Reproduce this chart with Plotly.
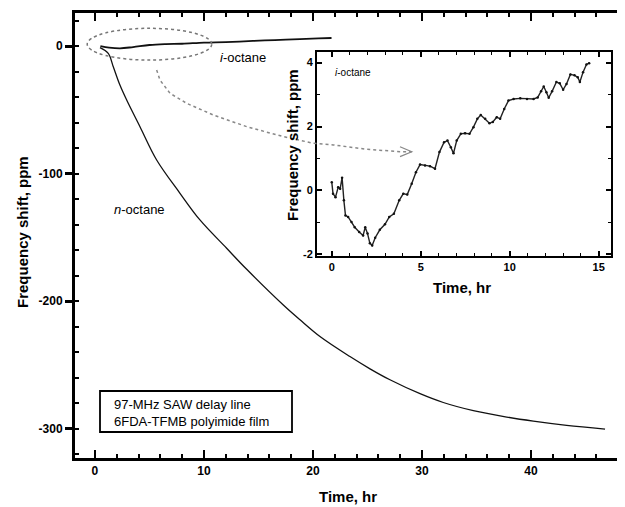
import plotly.graph_objects as go

# ---- data ----
n_oct_t = [0.46, 1.22, 1.68, 2.29, 2.91, 4.13, 5.66, 7.80, 9.63, 12.08, 13.92, 17.28,
           18.81, 20.64, 23.39, 25.23, 27.06, 29.82, 31.95, 34.71, 37.77, 40.21,
           43.27, 46.79]
n_oct_v = [-1.2, -5.7, -16.2, -30.6, -42.3, -63.2, -89.3, -115.4, -136.3, -158.5, -175.0,
           -203.0, -214.6, -227.7, -243.4, -253.0, -261.6, -272.5, -279.4, -285.8,
           -290.8, -294.0, -297.3, -300.2]

i_oct_main_t = [0.5, 1.3, 2.3, 3.5, 5.0, 6.5, 8.0, 10.0, 12.0, 14.5, 16.5, 18.8, 20.5, 21.7]
i_oct_main_v = [0.0, -1.2, -1.8, -0.8, 0.8, 1.5, 1.8, 2.7, 3.1, 4.0, 4.7, 5.5, 6.0, 6.3]

i_oct_t = [0.0, 0.07, 0.21, 0.36, 0.47, 0.58, 0.68, 0.77, 0.92, 1.11, 1.29, 1.54, 1.76,
           1.88, 2.01, 2.14, 2.27, 2.44, 2.70, 2.99, 3.23, 3.49, 3.79, 4.02, 4.24, 4.49,
           4.73, 4.96, 5.24, 5.52, 5.80, 6.05, 6.31, 6.50, 6.69, 6.84, 7.02, 7.25, 7.49,
           7.74, 7.96, 8.18, 8.37, 8.62, 8.86, 9.05, 9.27, 9.46, 9.69, 9.93, 10.22,
           10.59, 10.97, 11.34, 11.57, 11.76, 11.91, 12.06, 12.19, 12.38, 12.62, 12.81,
           13.00, 13.19, 13.41, 13.64, 13.82, 13.94, 14.12, 14.31, 14.46]
i_oct_v = [0.26, -0.10, -0.21, 0.10, 0.05, 0.40, -0.31, -0.78, -0.83, -0.99, -1.15,
           -1.30, -1.41, -1.15, -1.35, -1.65, -1.72, -1.48, -1.23, -1.06, -0.83, -0.73,
           -0.31, -0.10, -0.13, 0.21, 0.57, 0.81, 0.78, 0.76, 0.68, 1.20, 1.51, 1.56,
           1.35, 1.16, 1.56, 1.77, 1.79, 1.77, 1.98, 2.24, 2.36, 2.24, 2.10, 2.14, 2.29,
           2.24, 2.55, 2.81, 2.86, 2.88, 2.86, 2.86, 2.91, 3.10, 3.25, 3.07, 2.90, 3.10,
           3.39, 3.35, 3.15, 3.33, 3.63, 3.60, 3.54, 3.39, 3.70, 3.94, 3.98]

main_xticks = [0, 10, 20, 30, 40]
main_xlabels = ["0", "10", "20", "30", "40"]
main_yticks = [0, -100, -200, -300]
main_ylabels = ["0", "-100", "-200", "-300"]
inset_xticks = [0, 5, 10, 15]
inset_xlabels = ["0", "5", "10", "15"]
inset_yticks = [-2, 0, 2, 4]
inset_ylabels = ["-2", "0", "2", "4"]

FONT = "Liberation Sans, Arial, Helvetica, sans-serif"
OFF = 8  # page body margin
W, H = 625 - OFF, 507 - OFF
L, R, T, B = 75 - OFF, 0, 13 - OFF, 507 - 458
fig = go.Figure()
fig.add_trace(go.Scatter(x=n_oct_t, y=n_oct_v, mode="lines", line=dict(color="#111", width=1.3, shape="spline"),
                         xaxis="x", yaxis="y", showlegend=False))
fig.add_trace(go.Scatter(x=i_oct_main_t, y=i_oct_main_v, mode="lines", line=dict(color="#111", width=1.8, shape="spline"),
                         xaxis="x", yaxis="y", showlegend=False))
fig.add_trace(go.Scatter(x=i_oct_t, y=i_oct_v, mode="lines+markers", line=dict(color="#222", width=1.4),
                         marker=dict(size=2.5, color="#111"),
                         xaxis="x2", yaxis="y2", showlegend=False))

tickfont_main = dict(family=FONT, size=12, color="black", weight="bold")
tickfont_inset = dict(family=FONT, size=11, color="black", weight="bold")

fig.update_layout(
    width=W, height=H,
    margin=dict(l=L, r=R, t=T, b=B),
    paper_bgcolor="white", plot_bgcolor="white",
    xaxis=dict(domain=[0, 1], range=[-1.83, 48.62], tickvals=main_xticks, ticktext=main_xlabels,
               ticks="inside", ticklen=8, tickwidth=2, tickcolor="black", showline=True, linewidth=3,
               linecolor="black", mirror="ticks", showgrid=False, zeroline=False,
               tickfont=tickfont_main,
               minor=dict(dtick=2, ticks="inside", ticklen=4, tickwidth=1.5, tickcolor="black", showgrid=False)),
    yaxis=dict(domain=[0, 1], range=[-322.9, 25.9], tickvals=main_yticks, ticktext=main_ylabels,
               ticks="outside", ticklen=7, tickwidth=2.5, tickcolor="black", showline=True, linewidth=3,
               linecolor="black", mirror=False, showgrid=False, zeroline=False,
               tickfont=tickfont_main,
               minor=dict(dtick=20, ticks="inside", ticklen=4, tickwidth=1.5, tickcolor="black", showgrid=False)),
    xaxis2=dict(domain=[(317 - 75) / 550, (611 - 75) / 550], anchor="y2", range=[-0.83, 15.69],
                tickvals=inset_xticks, ticktext=inset_xlabels,
                ticks="inside", ticklen=5, tickwidth=1.5, tickcolor="black", showline=True,
                linewidth=2, linecolor="black", mirror="ticks", showgrid=False, zeroline=False,
                tickfont=tickfont_inset,
                minor=dict(dtick=1, ticks="inside", ticklen=3, tickwidth=1, tickcolor="black", showgrid=False)),
    yaxis2=dict(domain=[(458 - 256) / 445, (458 - 52) / 445], anchor="x2", range=[-2.05, 4.33],
                tickvals=inset_yticks, ticktext=inset_ylabels,
                ticks="inside", ticklen=5, tickwidth=1.5, tickcolor="black", showline=True,
                linewidth=2, linecolor="black", mirror="ticks", showgrid=False, zeroline=False,
                tickfont=tickfont_inset,
                minor=dict(dtick=1, ticks="inside", ticklen=3, tickwidth=1, tickcolor="black", showgrid=False)),
)

# screen pixel -> paper coordinates
def px_x(p):
    return (p - 75) / 550

def px_y(p):
    return (458 - p) / 445

title_font = dict(family=FONT, size=15, color="black", weight="bold")
ann = [
    dict(text="Time, hr", x=px_x(348), y=px_y(497), xref="paper", yref="paper",
         showarrow=False, font=title_font, xanchor="center", yanchor="middle"),
    dict(text="Frequency shift, ppm", x=px_x(22), y=px_y(232), xref="paper", yref="paper",
         showarrow=False, font=title_font, textangle=-90, xanchor="center", yanchor="middle"),
    dict(text="Time, hr", x=px_x(462), y=px_y(287), xref="paper", yref="paper",
         showarrow=False, font=title_font, xanchor="center", yanchor="middle"),
    dict(text="Frequency shift, ppm", x=px_x(292), y=px_y(145), xref="paper", yref="paper",
         showarrow=False, font=title_font, textangle=-90, xanchor="center", yanchor="middle"),
    dict(text="<i>i</i>-octane", x=0.07, y=3.7, xref="x2", yref="y2", showarrow=False,
         font=dict(family=FONT, size=10, color="black"), xanchor="left", yanchor="middle"),
    dict(text="<i>i</i>-octane", x=11.28, y=-8.6, xref="x", yref="y", showarrow=False,
         font=dict(family=FONT, size=13, color="black"), xanchor="left", yanchor="middle"),
    dict(text="<i>n</i>-octane", x=1.56, y=-128.5, xref="x", yref="y", showarrow=False,
         font=dict(family=FONT, size=13, color="black"), xanchor="left", yanchor="middle"),
    dict(text="97-MHz SAW delay line<br>6FDA-TFMB polyimide film", x=px_x(112), y=px_y(413),
         xref="paper", yref="paper", showarrow=False, align="left",
         font=dict(family=FONT, size=13, color="black"), xanchor="left", yanchor="middle"),
]
fig.update_layout(annotations=ann)

# decorations: ellipse, curved arrow, label box
arrow_pts = [(5.66, -18.8), (5.96, -26.6), (6.88, -37.0), (8.41, -44.9), (10.85, -54.0),
             (13.92, -63.2), (17.28, -71.0), (20.03, -76.2), (21.86, -77.5), (24.93, -80.9),
             (27.98, -82.8), (29.06, -82.8)]
path = "M " + " L ".join(f"{a},{b}" for a, b in arrow_pts)
shapes = [
    dict(type="circle", xref="x", yref="y", x0=-0.71, x1=10.71, y0=-11.0, y1=13.9,
         line=dict(color="#777", width=1.5, dash="dot")),
    dict(type="path", xref="x", yref="y", path=path, line=dict(color="#888", width=1.5, dash="dot")),
    dict(type="path", xref="x", yref="y", path="M 27.98,-78.9 L 29.06,-82.8 L 27.98,-86.7",
         line=dict(color="#888", width=1.2)),
    dict(type="rect", xref="paper", yref="paper", x0=px_x(100), x1=px_x(292), y0=px_y(432), y1=px_y(391),
         line=dict(color="black", width=1.8), fillcolor="rgba(0,0,0,0)"),
]
fig.update_layout(shapes=shapes)

fig.write_html("out.html")
